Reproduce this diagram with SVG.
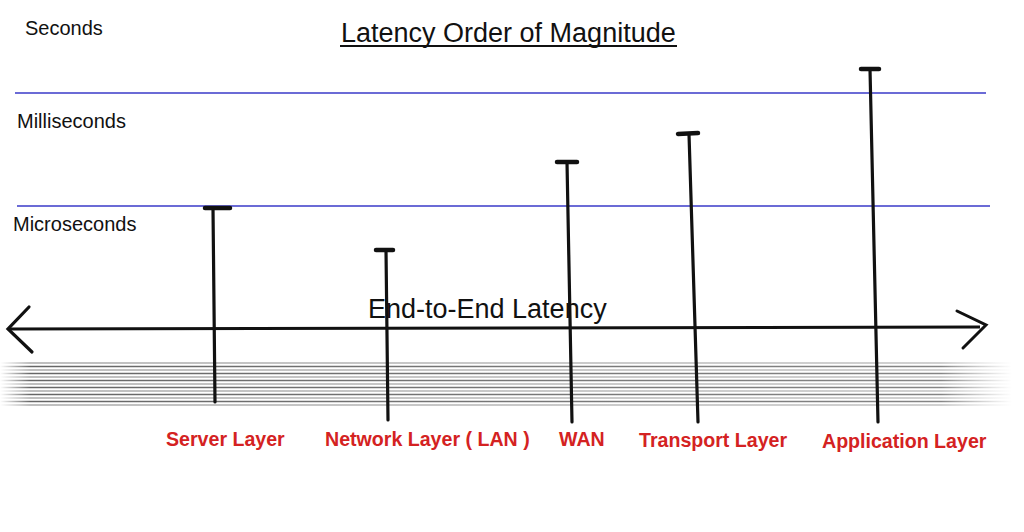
<svg xmlns="http://www.w3.org/2000/svg" width="1024" height="532" viewBox="0 0 1024 532">
<defs>
<linearGradient id="fade" gradientUnits="userSpaceOnUse" x1="0" y1="0" x2="1012" y2="0">
<stop offset="0" stop-color="#666" stop-opacity="0"/>
<stop offset="0.03" stop-color="#666" stop-opacity="1"/>
<stop offset="0.93" stop-color="#777" stop-opacity="0.9"/>
<stop offset="1" stop-color="#999" stop-opacity="0"/>
</linearGradient>
<linearGradient id="fadeL" gradientUnits="userSpaceOnUse" x1="0" y1="0" x2="1012" y2="0">
<stop offset="0" stop-color="#aaa" stop-opacity="0"/>
<stop offset="0.03" stop-color="#aaa" stop-opacity="1"/>
<stop offset="0.93" stop-color="#bbb" stop-opacity="0.9"/>
<stop offset="1" stop-color="#ccc" stop-opacity="0"/>
</linearGradient>
</defs>
<style>
.lbl{font-family:"Liberation Sans",Arial,sans-serif;font-size:20px;fill:#111}
.title{font-family:"Liberation Sans",Arial,sans-serif;font-size:27px;fill:#111}
.red{font-family:"Liberation Sans",Arial,sans-serif;font-size:19.6px;font-weight:bold;fill:#d42222}
.band{stroke:#6b6bd6;stroke-width:2;fill:none}
.stem{stroke:#111;stroke-width:3.2;fill:none;stroke-linecap:round}
.tick{stroke:#111;stroke-width:4.5;fill:none;stroke-linecap:round}
.axis{stroke:#111;stroke-width:3;fill:none}
.stripe{stroke:url(#fade);stroke-width:1.3;fill:none}
.stripeL{stroke:url(#fadeL);stroke-width:1.3;fill:none}
</style>
<rect width="1024" height="532" fill="#fff"/>

<g id="stripes">
<path class="stripeL" d="M0 363H1012M0 370H1012M0 377H1012M0 384H1012M0 391H1012M0 398H1012M0 405H1012"/>
<path class="stripe" d="M0 366.5H1012M0 373.5H1012M0 380.5H1012M0 387.5H1012M0 394.5H1012M0 401.5H1012"/>
</g>

<g id="title">
<text class="title" x="341" y="42">Latency Order of Magnitude</text>
<line x1="340" y1="46" x2="677" y2="46" stroke="#111" stroke-width="2"/>
</g>

<g id="bands">
<text class="lbl" x="25" y="35">Seconds</text>
<line class="band" x1="15" y1="93" x2="986" y2="93"/>
<text class="lbl" x="17" y="128">Milliseconds</text>
<line class="band" x1="17" y1="206" x2="990" y2="206"/>
<text class="lbl" x="13" y="231">Microseconds</text>
</g>

<g id="connectors">
<line class="axis" x1="9" y1="329" x2="980" y2="327"/>
<path d="M29 307L8 329L32 352" fill="none" stroke="#111" stroke-width="3.2" stroke-linecap="round" stroke-linejoin="miter"/>
<path d="M957 311L986 325L963 348" fill="none" stroke="#111" stroke-width="3" stroke-linecap="round"/>
<text class="title" x="368" y="318">End-to-End Latency</text>
</g>

<g id="server">
<line class="stem" x1="213" y1="208" x2="215" y2="402"/>
<line class="tick" x1="205" y1="208" x2="230" y2="208"/>
<text class="red" x="166" y="446">Server Layer</text>
</g>

<g id="network">
<line class="stem" x1="386" y1="250" x2="388" y2="420"/>
<line class="tick" x1="376" y1="250" x2="393" y2="250"/>
<text class="red" x="325" y="446">Network Layer ( LAN )</text>
</g>

<g id="wan">
<line class="stem" x1="567" y1="162" x2="572" y2="422"/>
<line class="tick" x1="557" y1="162" x2="577" y2="162"/>
<text class="red" x="559" y="446">WAN</text>
</g>

<g id="transport">
<line class="stem" x1="689" y1="134" x2="698" y2="422"/>
<line class="tick" x1="678" y1="134" x2="698" y2="133"/>
<text class="red" x="639" y="447">Transport Layer</text>
</g>

<g id="application">
<line class="stem" x1="870" y1="69" x2="878" y2="422"/>
<line class="tick" x1="861" y1="69" x2="879" y2="69"/>
<text class="red" x="822" y="448">Application Layer</text>
</g>
</svg>
